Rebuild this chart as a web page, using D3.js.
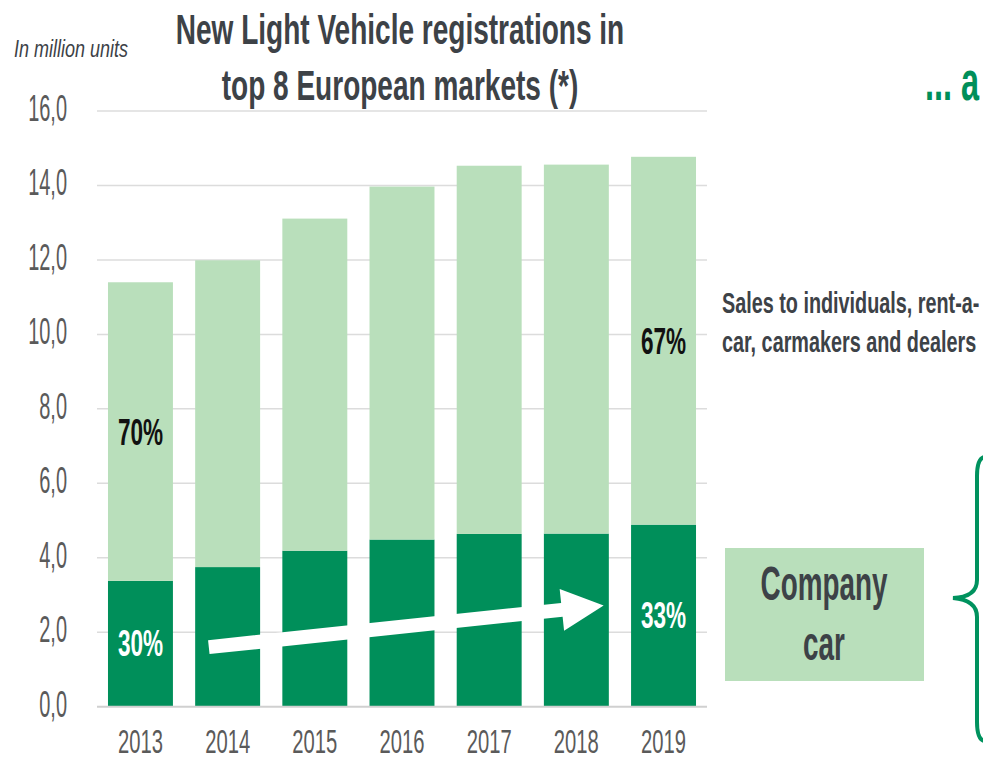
<!DOCTYPE html>
<html>
<head>
<meta charset="utf-8">
<script src="https://cdn.jsdelivr.net/npm/d3@7"></script>
<style>
  html, body { margin: 0; padding: 0; background: #fff; }
  svg { display: block; }
</style>
</head>
<body>
<div id="chart"></div>
<script>
// New Light Vehicle registrations, top 8 European markets (million units)
const years = ["2013", "2014", "2015", "2016", "2017", "2018", "2019"];
const companyCar = [3.38, 3.75, 4.19, 4.49, 4.64, 4.65, 4.89];
const otherSales = [8.02, 8.24, 8.92, 9.48, 9.89, 9.91, 9.88];
const yTicks = [0, 2, 4, 6, 8, 10, 12, 14, 16];

const W = 983, H = 761;
const darkGreen = '#008f5a';
const lightGreen = '#b9dfbb';
const inkColor = '#3d4247';
const tickColor = '#5a5a5a';
const font = '"Liberation Sans", Arial, sans-serif';

const svg = d3.select('#chart').append('svg')
  .attr('width', W)
  .attr('height', H)
  .attr('viewBox', [0, 0, W, H]);

const x = d3.scaleBand()
  .domain(years)
  .range([97, 707])
  .paddingInner(0.255)
  .paddingOuter(0.126);

const y = d3.scaleLinear()
  .domain([0, 16])
  .range([706.7, 111]);

// condensed text: squeeze horizontally around the anchor point
function label(g, str, px, py, o) {
  const t = g.append('g')
    .attr('transform', `translate(${px},${py}) scale(${o.sx || 1},1)`)
    .append('text')
    .attr('font-family', font)
    .attr('font-size', o.size)
    .attr('font-weight', o.weight || 'normal')
    .attr('font-style', o.style || 'normal')
    .attr('fill', o.fill || inkColor)
    .attr('text-anchor', o.anchor || 'start')
    .text(str);
  return t;
}

// gridlines
const grid = svg.append('g');
grid.selectAll('line')
  .data(yTicks.filter(d => d > 0))
  .join('line')
    .attr('x1', 97).attr('x2', 707)
    .attr('y1', d => y(d)).attr('y2', d => y(d))
    .attr('stroke', '#dcdcdc')
    .attr('stroke-width', 1.5);

// stacked bars
const rows = years.map((yr, i) => ({ year: yr, company: companyCar[i], other: otherSales[i] }));
const stack = d3.stack().keys(['company', 'other'])(rows);
const fills = { company: darkGreen, other: lightGreen };

svg.append('g')
  .selectAll('g')
  .data(stack)
  .join('g')
    .attr('fill', d => fills[d.key])
  .selectAll('rect')
  .data(d => d)
  .join('rect')
    .attr('x', d => x(d.data.year))
    .attr('width', x.bandwidth())
    .attr('y', d => y(d[1]))
    .attr('height', d => y(d[0]) - y(d[1]));

// baseline
svg.append('line')
  .attr('x1', 97).attr('x2', 707)
  .attr('y1', y(0)).attr('y2', y(0))
  .attr('stroke', '#d0d0d0')
  .attr('stroke-width', 2);

// y tick labels
const yAxisG = svg.append('g');
const fmt = d => d3.format('.1f')(d).replace('.', ',');
yTicks.forEach(v => {
  label(yAxisG, fmt(v), 67, y(v) + 10, { size: 37, sx: 0.54, fill: tickColor, anchor: 'end' });
});

// x labels
const xAxisG = svg.append('g');
years.forEach(yr => {
  label(xAxisG, yr, x(yr) + x.bandwidth() / 2, 753, { size: 34, sx: 0.595, fill: tickColor, anchor: 'middle' });
});

// share labels on first and last bar
const pctG = svg.append('g');
[0, years.length - 1].forEach(i => {
  const yr = years[i];
  const total = companyCar[i] + otherSales[i];
  const cx = x(yr) + x.bandwidth() / 2;
  const pc = Math.round(companyCar[i] / total * 100);
  label(pctG, (100 - pc) + '%', cx, y(companyCar[i] + otherSales[i] / 2) + 13,
    { size: 37, sx: 0.61, weight: 'bold', fill: '#111', anchor: 'middle' });
  label(pctG, pc + '%', cx, y(companyCar[i] / 2) + 12,
    { size: 37, sx: 0.61, weight: 'bold', fill: '#fff', anchor: 'middle' });
});

// trend arrow across the company car segments
const a0 = [x('2014') + x.bandwidth() * 0.21, y(1.6)];
const a1 = [x('2018') + x.bandwidth() * 0.92, y(2.72)];
(function drawArrow() {
  const dx = a1[0] - a0[0], dy = a1[1] - a0[1];
  const len = Math.hypot(dx, dy);
  const ux = dx / len, uy = dy / len, nx = -uy, ny = ux;
  const sw = 7, hl = 42, hw = 21;
  const bx = a1[0] - ux * hl, by = a1[1] - uy * hl;
  const pts = [
    [a0[0] + nx * sw, a0[1] + ny * sw],
    [bx + nx * sw, by + ny * sw],
    [bx + nx * hw, by + ny * hw],
    a1,
    [bx - nx * hw, by - ny * hw],
    [bx - nx * sw, by - ny * sw],
    [a0[0] - nx * sw, a0[1] - ny * sw]
  ];
  svg.append('path')
    .attr('d', d3.line()(pts) + 'Z')
    .attr('fill', '#fff');
})();

// titles and notes
const notes = svg.append('g');
label(notes, 'In million units', 14, 57, { size: 24, sx: 0.75, style: 'italic', fill: inkColor });
label(notes, 'New Light Vehicle registrations in', 400, 44, { size: 43, sx: 0.652, weight: 'bold', anchor: 'middle' });
label(notes, 'top 8 European markets (*)', 400, 100, { size: 43, sx: 0.652, weight: 'bold', anchor: 'middle' });
label(notes, '... a', 925, 100, { size: 56, sx: 0.58, weight: 'bold', fill: darkGreen });
label(notes, 'Sales to individuals, rent-a-', 722, 313, { size: 30, sx: 0.66, weight: 'bold' });
label(notes, 'car, carmakers and dealers', 722, 352, { size: 30, sx: 0.66, weight: 'bold' });

// company car box
notes.append('rect')
  .attr('x', 725).attr('y', 548)
  .attr('width', 199).attr('height', 133)
  .attr('fill', lightGreen);
label(notes, 'Company', 824, 600, { size: 48, sx: 0.58, weight: 'bold', anchor: 'middle' });
label(notes, 'car', 824, 660, { size: 48, sx: 0.58, weight: 'bold', anchor: 'middle' });

// curly brace
notes.append('path')
  .attr('d', 'M984,457 Q977,459 977,476 L977,580 Q977,597 953,598 Q977,600 977,617 L977,722 Q977,739 984,741')
  .attr('fill', 'none')
  .attr('stroke', '#00925e')
  .attr('stroke-width', 4);
</script>
</body>
</html>
